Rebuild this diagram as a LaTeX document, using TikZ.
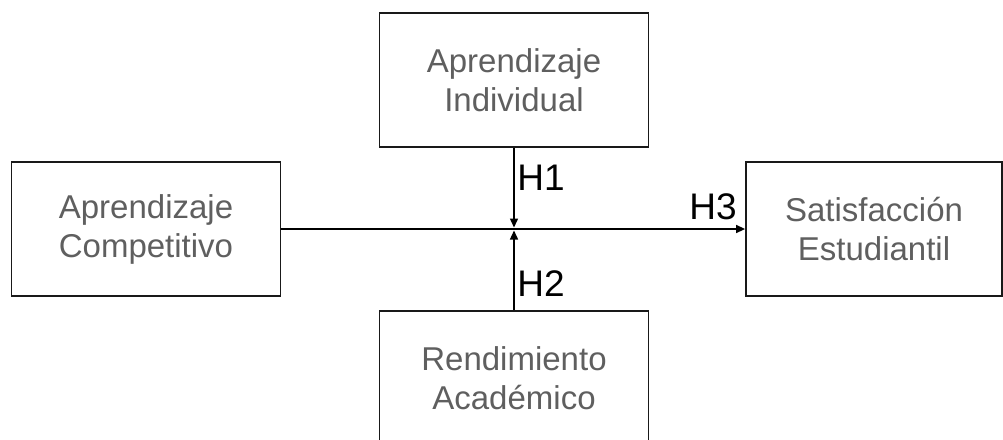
\documentclass[tikz,border=0pt]{standalone}
\usepackage{fontspec}
\setmainfont{Liberation Sans}
\usetikzlibrary{arrows.meta,positioning}
\definecolor{boxtext}{RGB}{95,95,95}

\begin{document}
\begin{tikzpicture}[x=1pt,y=-1pt,>={Triangle[length=9pt,width=8pt]},
  varbox/.style={draw=black!90,line width=1.8pt,minimum width=269pt,minimum height=134pt,
    align=center,text=boxtext,font=\fontsize{33}{39}\selectfont},
  hyplabel/.style={font=\fontsize{37}{40}\selectfont,inner sep=0pt}]
\useasboundingbox (0,0) rectangle (1003,439);
% variables
\node[varbox] (indiv) at (514,80) {Aprendizaje\\Individual};
\node[varbox] (comp) at (146,229) {Aprendizaje\\Competitivo};
\node[varbox,minimum width=256pt] (satis) at (874,229) {Satisfacción\\Estudiantil};
\node[varbox] (rend) at (514,378) {Rendimiento\\Académico};
% paths
\coordinate (meet) at (indiv.south |- comp.east);
\draw[->,line width=1.4pt] (comp.east) -- (satis.west);
\draw[->,line width=1.4pt,shorten >=1.5pt] (indiv.south) -- (meet);
\draw[->,line width=1.4pt,shorten >=1.5pt] (rend.north) -- (meet);
% hypotheses
\node[hyplabel] (h1) at (541,178) {H1};
\node[hyplabel] (h2) at (541,284) {H2};
\node[hyplabel] (h3) at (713,207) {H3};
\end{tikzpicture}
\end{document}
